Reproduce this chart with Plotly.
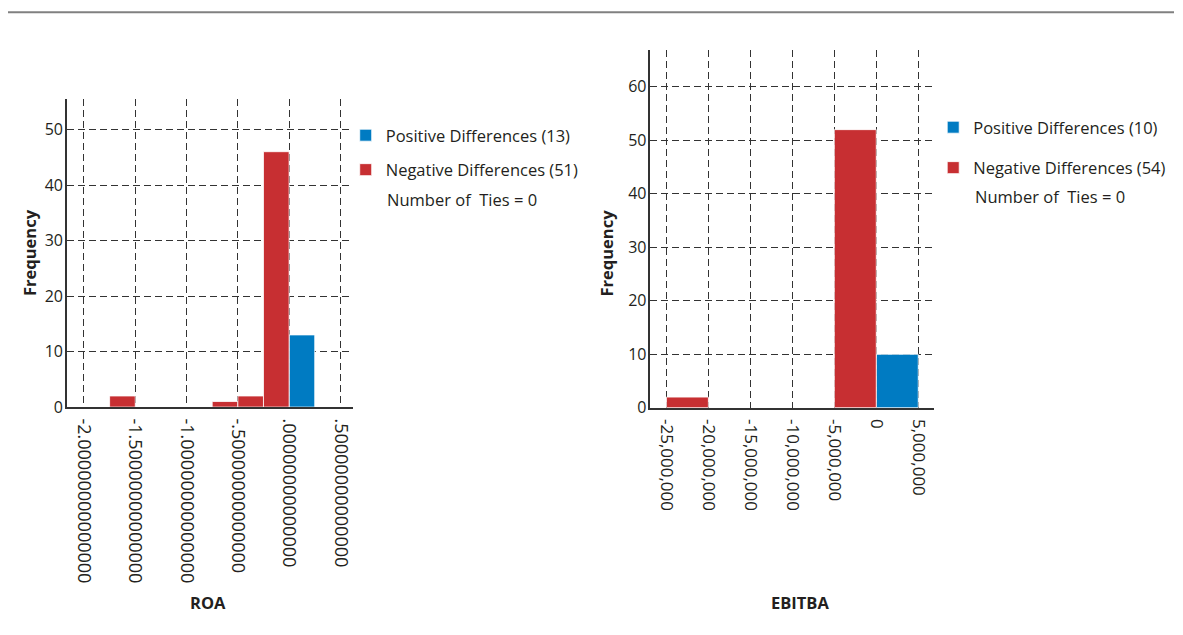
import numpy as np
import plotly.graph_objects as go

# ---------------- data ----------------
# ROA histogram (bin lower / upper edges, counts)
roa_neg_lo = [-1.75, -0.75, -0.50, -0.25]
roa_neg_hi = [-1.50, -0.50, -0.25, 0.00]
roa_neg_count = [2, 1, 2, 46]
roa_pos_lo = [0.00]
roa_pos_hi = [0.25]
roa_pos_count = [13]
roa_tickvals = [-2.0, -1.5, -1.0, -0.5, 0.0, 0.5]
roa_ticktext = ["-2.00000000000000", "-1.50000000000000", "-1.00000000000000",
                "-.50000000000000", ".00000000000000", ".50000000000000"]
roa_y_ticks = [0, 10, 20, 30, 40, 50]

# EBITBA histogram
eb_neg_lo = [-25e6, -5e6]
eb_neg_hi = [-20e6, 0.0]
eb_neg_count = [2, 52]
eb_pos_lo = [0.0]
eb_pos_hi = [5e6]
eb_pos_count = [10]
eb_tickvals = [-25e6, -20e6, -15e6, -10e6, -5e6, 0, 5e6]
eb_ticktext = ["-25,000,000", "-20,000,000", "-15,000,000", "-10,000,000",
               "-5,000,000", "0", "5,000,000"]
eb_y_ticks = [0, 10, 20, 30, 40, 50, 60]

roa_pos_label = "Positive Differences (13)"
roa_neg_label = "Negative Differences (51)"
eb_pos_label = "Positive Differences (10)"
eb_neg_label = "Negative Differences (54)"
ties_label = "Number of  Ties = 0"

# ---------------- style ----------------
OFF = 8                      # default page margin around the plot div
VS = 0.982                   # observed vertical scale of the snapshot
W, H = 1183 - 2 * OFF, 625
RED = "#C72F32"
BLUE = "#007BC2"
FONT = "Open Sans"
TXT = "#231F20"
GRID = "#333333"


def px(x):
    return (x - OFF) / W


def py(y):
    ypage = 12.3 + (y - 12.3) / VS
    return 1 - (ypage - OFF) / H


def centers(lo, hi):
    lo = np.asarray(lo, float)
    hi = np.asarray(hi, float)
    return (lo + hi) / 2, hi - lo


fig = go.Figure()

def add_bars(lo, hi, cnt, color, name, xa, ya, legend, group):
    c, w = centers(lo, hi)
    fig.add_trace(go.Bar(
        x=c, y=cnt, width=w, name=name,
        marker=dict(color=color, line=dict(color="white", width=0.8)),
        xaxis=xa, yaxis=ya, legend=legend, legendgroup=group, hoverinfo="x+y",
    ))

add_bars(roa_pos_lo, roa_pos_hi, roa_pos_count, BLUE, roa_pos_label, "x", "y", "legend", "p1")
add_bars(roa_neg_lo, roa_neg_hi, roa_neg_count, RED, roa_neg_label, "x", "y", "legend", "n1")
add_bars(eb_pos_lo, eb_pos_hi, eb_pos_count, BLUE, eb_pos_label, "x2", "y2", "legend2", "p2")
add_bars(eb_neg_lo, eb_neg_hi, eb_neg_count, RED, eb_neg_label, "x2", "y2", "legend2", "n2")

axis_common = dict(
    showgrid=True, gridcolor=GRID, gridwidth=1, griddash="7px,4px",
    showline=True, linecolor="#333333", linewidth=1.6, zeroline=False,
    ticks="",
)
roa_xfont = dict(family=FONT, size=18, color=TXT)
eb_xfont = dict(family=FONT, size=17, color=TXT)
yfont = dict(family=FONT, size=16, color=TXT)

fig.update_layout(
    width=W, height=H,
    margin=dict(l=0, r=0, t=0, b=0),
    paper_bgcolor="white", plot_bgcolor="white",
    barmode="overlay",
    font=dict(family=FONT, color=TXT),
    xaxis=dict(domain=[px(67), px(353)], range=[-2.166, 0.62], anchor="y",
               tickmode="array", tickvals=roa_tickvals, ticktext=roa_ticktext,
               tickangle=90, tickfont=roa_xfont, ticklabelstandoff=6, **axis_common),
    yaxis=dict(domain=[py(407), py(99)], range=[0, 55.5], anchor="x",
               tickmode="array", tickvals=roa_y_ticks, ticklabelstandoff=-1,
               tickfont=yfont, **axis_common),
    xaxis2=dict(domain=[px(651), px(935)], range=[-26.9e6, 6.9e6], anchor="y2",
                tickmode="array", tickvals=eb_tickvals, ticktext=eb_ticktext,
                tickangle=90, tickfont=eb_xfont, ticklabelstandoff=6, **axis_common),
    yaxis2=dict(domain=[py(407.7), py(50)], range=[0, 66.9], anchor="x2",
                tickmode="array", tickvals=eb_y_ticks, ticklabelstandoff=-1,
                tickfont=yfont, **axis_common),
    legend=dict(x=px(346), y=py(118), xanchor="left", yanchor="top",
                font=dict(family=FONT, size=16.5, color=TXT),
                tracegroupgap=10, traceorder="grouped", bgcolor="rgba(0,0,0,0)"),
    legend2=dict(x=px(934), y=py(110), xanchor="left", yanchor="top",
                 font=dict(family=FONT, size=16.5, color=TXT),
                 tracegroupgap=16, traceorder="grouped", bgcolor="rgba(0,0,0,0)"),
    showlegend=True,
)

ann = []
ann.append(dict(text="<b>Frequency</b>", x=px(29), y=py(252), xref="paper", yref="paper",
                textangle=-90, showarrow=False, font=dict(family=FONT, size=16.5, color=TXT),
                xanchor="center", yanchor="middle"))
ann.append(dict(text="<b>Frequency</b>", x=px(607), y=py(253), xref="paper", yref="paper",
                textangle=-90, showarrow=False, font=dict(family=FONT, size=16.5, color=TXT),
                xanchor="center", yanchor="middle"))
ann.append(dict(text="<b>ROA</b>", x=px(208.5), y=py(602), xref="paper", yref="paper",
                showarrow=False, font=dict(family=FONT, size=16.5, color=TXT),
                xanchor="center", yanchor="middle"))
ann.append(dict(text="<b>EBITBA</b>", x=px(801), y=py(602), xref="paper", yref="paper",
                showarrow=False, font=dict(family=FONT, size=16.5, color=TXT),
                xanchor="center", yanchor="middle"))
ann.append(dict(text=ties_label.replace("  ", "&nbsp; "), x=px(385), y=py(199), xref="paper", yref="paper",
                showarrow=False, font=dict(family=FONT, size=16.5, color=TXT),
                xanchor="left", yanchor="middle"))
ann.append(dict(text=ties_label.replace("  ", "&nbsp; "), x=px(974), y=py(196.7), xref="paper", yref="paper",
                showarrow=False, font=dict(family=FONT, size=16.5, color=TXT),
                xanchor="left", yanchor="middle"))
fig.update_layout(annotations=ann)

# header rule at top of page
fig.add_shape(type="line", xref="paper", yref="paper", x0=0, x1=1, y0=py(12.3), y1=py(12.3),
              line=dict(color="#808080", width=2))

fig.write_html("out.html")
